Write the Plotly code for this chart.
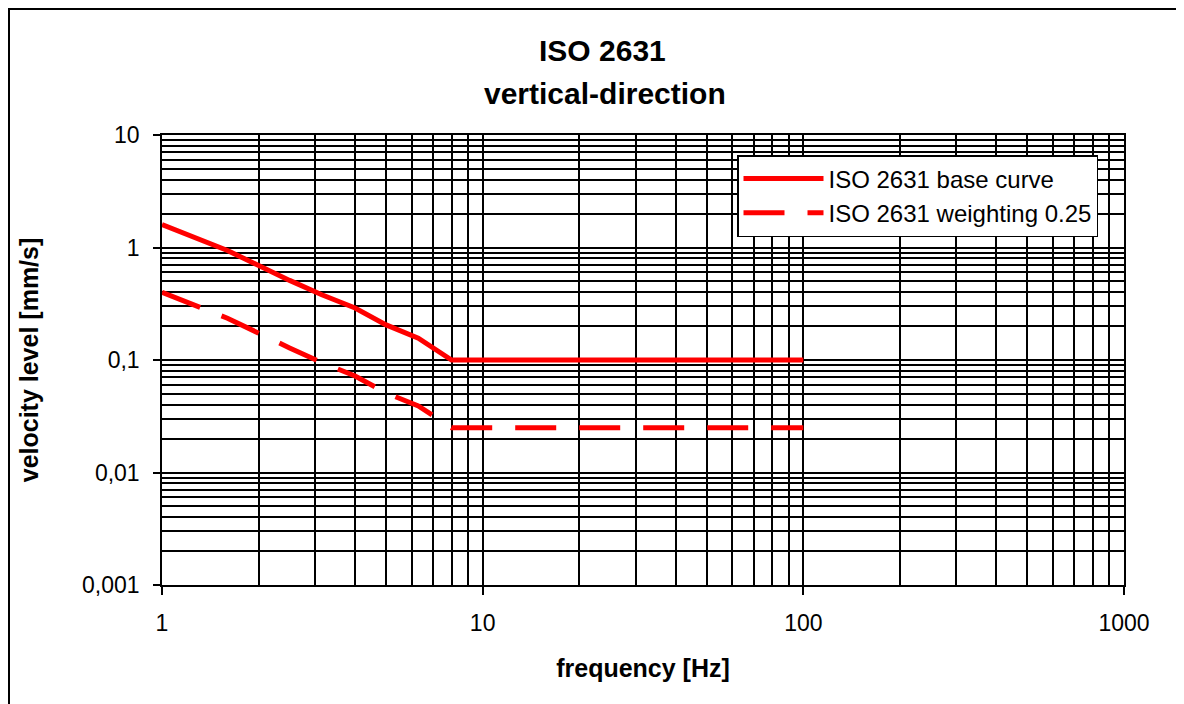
import plotly.graph_objects as go

# Data
freq_hz = [1, 1.6, 2.5, 3.15, 4, 5, 6.3, 8, 100]
base_curve = [1.6, 0.94, 0.51, 0.38, 0.29, 0.205, 0.156, 0.1, 0.1]
weighted_curve = [0.4, 0.235, 0.128, 0.095, 0.072, 0.051, 0.039, 0.025, 0.025]

series_names = ["ISO 2631 base curve", "ISO 2631 weighting 0.25"]
title_lines = ["ISO 2631", "vertical-direction"]
x_tickvals = [1, 10, 100, 1000]
x_ticktext = ["1", "10", "100", "1000"]
y_tickvals = [0.001, 0.01, 0.1, 1, 10]
y_ticktext = ["0,001", "0,01", "0,1", "1", "10"]

x_minor = [m * d for d in [1, 10, 100] for m in range(2, 10)]
y_minor = [m * d for d in [0.001, 0.01, 0.1, 1] for m in range(2, 10)]

FONT = "Liberation Sans, Arial, sans-serif"
RED = "#FF0000"

fig = go.Figure()
fig.add_trace(go.Scatter(x=freq_hz, y=base_curve, mode="lines", name=series_names[0],
                         line=dict(color=RED, width=5)))
fig.add_trace(go.Scatter(x=freq_hz, y=weighted_curve, mode="lines", name=series_names[1],
                         line=dict(color=RED, width=5, dash="41px,23px")))

# page body has an 8px margin, so the figure starts at (8, 8) in the window
W, H = 1176, 696
L, R, T, B = 154, 60, 127, 119
pw, ph = W - L - R, H - T - B

def px_x(x):
    return (x - L) / pw

def px_y(y):
    return 1 + (T - y) / ph

# outer frame: only left and top edges are visible in the reference
fx0, fy_top = px_x(1), px_y(1)
fx1, fy_bot = px_x(W + 30), px_y(H + 30)
frame_path = f"M {fx0},{fy_bot} L {fx0},{fy_top} L {fx1},{fy_top}"

fig.update_layout(
    width=W, height=H,
    margin=dict(l=L, r=R, t=T, b=B, autoexpand=False),
    paper_bgcolor="white", plot_bgcolor="white",
    font=dict(family=FONT, color="black", size=23),
    showlegend=True,
    legend=dict(x=px_x(729), y=px_y(147), xanchor="left", yanchor="top",
                bgcolor="white", bordercolor="black", borderwidth=1.5,
                font=dict(size=24, family=FONT, color="black"),
                itemwidth=80, tracegroupgap=0),
    xaxis=dict(type="log", range=[0, 3],
               tickvals=x_tickvals, ticktext=x_ticktext,
               ticks="outside", ticklen=8, tickwidth=1.5, tickcolor="black",
               ticklabelstandoff=9,
               showgrid=True, gridcolor="black", gridwidth=1.5,
               minor=dict(tickvals=x_minor, showgrid=True, gridcolor="black", gridwidth=1.5, ticks=""),
               showline=True, linecolor="black", linewidth=1.5, mirror=True,
               zeroline=False,
               title=dict(text="<b>frequency [Hz]</b>", font=dict(size=25, family=FONT), standoff=24),
               tickfont=dict(size=23, family=FONT)),
    yaxis=dict(type="log", range=[-3, 1],
               tickvals=y_tickvals, ticktext=y_ticktext,
               ticks="outside", ticklen=7, tickwidth=1.5, tickcolor="black",
               ticklabelstandoff=9,
               showgrid=True, gridcolor="black", gridwidth=1.5,
               minor=dict(tickvals=y_minor, showgrid=True, gridcolor="black", gridwidth=1.5, ticks=""),
               showline=True, linecolor="black", linewidth=1.5, mirror=True,
               zeroline=False,
               title=dict(text="<b>velocity level [mm/s]</b>", font=dict(size=25, family=FONT), standoff=36),
               tickfont=dict(size=23, family=FONT)),
    annotations=[
        dict(text="<b>" + title_lines[0] + "</b>", xref="paper", yref="paper",
             x=px_x(594), y=px_y(42), xanchor="center", yanchor="middle", showarrow=False,
             font=dict(size=30, family=FONT, color="black")),
        dict(text="<b>" + title_lines[1] + "</b>", xref="paper", yref="paper",
             x=px_x(597), y=px_y(85), xanchor="center", yanchor="middle", showarrow=False,
             font=dict(size=30, family=FONT, color="black")),
    ],
    shapes=[dict(type="path", xref="paper", yref="paper", path=frame_path,
                 line=dict(color="black", width=2), layer="above")],
)

fig.write_html("out.html")
